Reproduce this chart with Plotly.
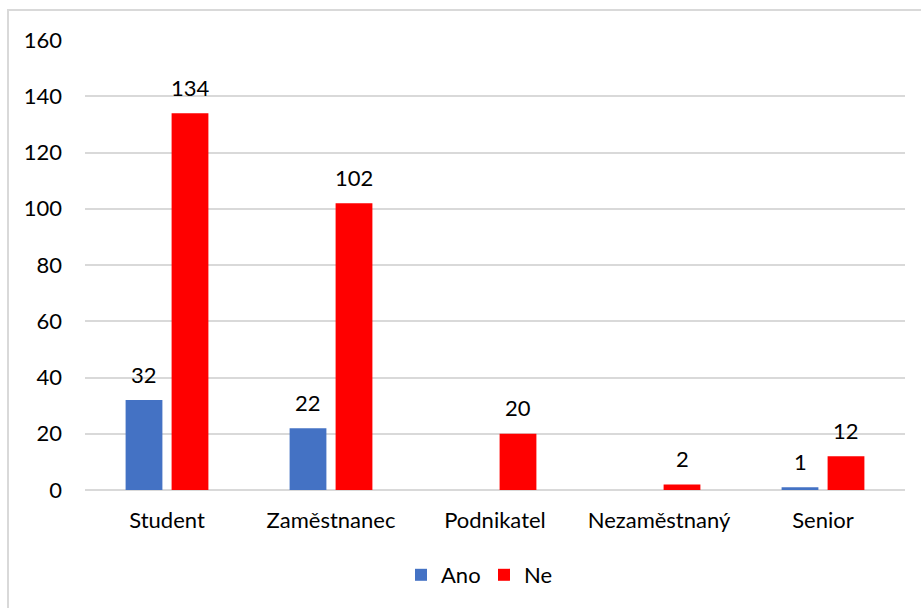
import plotly.graph_objects as go

# Survey answers by occupation group
categories = ["Student", "Zaměstnanec", "Podnikatel", "Nezaměstnaný", "Senior"]
ano = [32, 22, None, None, 1]
ne = [134, 102, 20, 2, 12]

y_ticks = [0, 20, 40, 60, 80, 100, 120, 140, 160]

BLUE = "#4472C4"
RED = "#FF0000"
GRID = "#D9D9D9"
FONT = dict(family="Lato, Calibri, sans-serif", size=22, color="#000000")

fig = go.Figure()
fig.add_trace(go.Bar(name="Ano", x=categories, y=ano, marker=dict(color=BLUE, line=dict(width=0))))
fig.add_trace(go.Bar(name="Ne", x=categories, y=ne, marker=dict(color=RED, line=dict(width=0))))

# value labels above each bar
for trace_idx, series in enumerate([ano, ne]):
    for cat, val in zip(categories, series):
        if val is None:
            continue
        fig.add_annotation(
            x=cat, y=val, text=str(val), showarrow=False,
            xref="x", yref="y", yanchor="middle", yshift=26,
            xshift=(-23 if trace_idx == 0 else 23),
            font=FONT,
        )

# light outer frame of the chart area
fig.add_shape(
    type="rect", xref="paper", yref="paper",
    x0=(8 - 85) / 820, x1=(930 - 85) / 820,
    y0=(490 - 620) / 450, y1=(490 - 10) / 450,
    line=dict(color=GRID, width=2), fillcolor="rgba(0,0,0,0)", layer="below",
)

fig.update_layout(
    width=921, height=608,
    margin=dict(l=85, r=16, t=40, b=118),
    paper_bgcolor="white", plot_bgcolor="white",
    barmode="group", bargap=0.439, bargroupgap=0.2,
    font=FONT,
    showlegend=True,
    legend=dict(
        orientation="h", x=(484 - 85) / 820, xanchor="center",
        y=(490 - 575) / 450, yanchor="middle",
        font=FONT, itemwidth=30, traceorder="normal",
        entrywidth=38, entrywidthmode="pixels",
    ),
    xaxis=dict(
        showgrid=False, showline=False, ticks="", ticklabelstandoff=15,
        tickfont=FONT,
    ),
    yaxis=dict(
        range=[0, 160], tickvals=y_ticks, showgrid=True, gridcolor=GRID, gridwidth=1.5,
        zeroline=True, zerolinecolor=GRID, zerolinewidth=1.5,
        showline=False, ticks="", ticklabelstandoff=22, tickfont=FONT,
    ),
)

fig.write_html("out.html")
